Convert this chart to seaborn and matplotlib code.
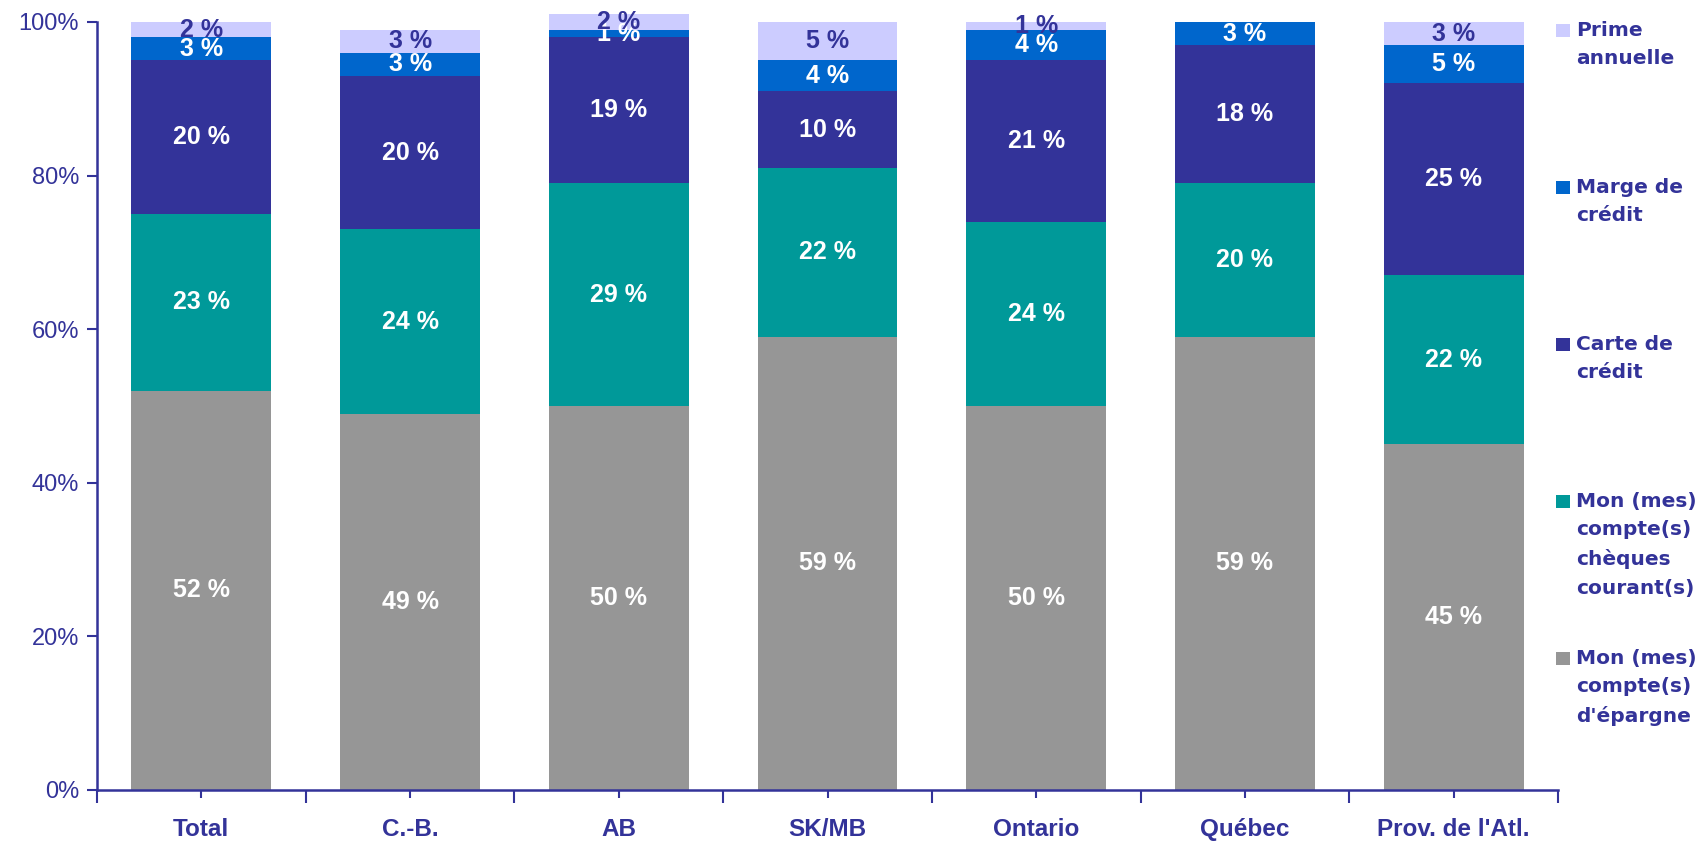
# Stacked bars: source of funds by region (percent of respondents)
import numpy as np
import matplotlib
matplotlib.use("Agg")
import matplotlib.pyplot as plt
from matplotlib.patches import Rectangle
from matplotlib.ticker import FixedLocator
import seaborn as sns

regions = ["Total", "C.-B.", "AB", "SK/MB", "Ontario", "Québec", "Prov. de l'Atl."]

# values bottom to top, in percent
epargne = [52, 49, 50, 59, 50, 59, 45]
cheques = [23, 24, 29, 22, 24, 20, 22]
carte = [20, 20, 19, 10, 21, 18, 25]
marge = [3, 3, 1, 4, 4, 3, 5]
prime = [2, 3, 2, 5, 1, 0, 3]

series_names = ["Mon (mes)\ncompte(s)\nd'épargne",
                "Mon (mes)\ncompte(s)\nchèques\ncourant(s)",
                "Carte de\ncrédit",
                "Marge de\ncrédit",
                "Prime\nannuelle"]
series_colors = ["#969696", "#009999", "#333399", "#0066CC", "#CCCCFF"]
label_colors = ["white", "white", "white", "white", "#333399"]

navy = "#333399"

sns.set_style("white")
plt.rcParams["font.family"] = ["Liberation Sans", "DejaVu Sans"]

W, H = 1704, 841
fig = plt.figure(figsize=(W / 100, H / 100), dpi=100)
ax = fig.add_axes([97 / W, 1 - 790 / H, (1558 - 97) / W, (790 - 22) / H])

series = [np.array(epargne), np.array(cheques), np.array(carte), np.array(marge), np.array(prime)]
cums = np.cumsum(series, axis=0) / 100.0

# draw cumulative totals from the top layer down so each layer covers the one above
for k in range(len(series) - 1, -1, -1):
    sns.barplot(x=regions, y=cums[k], order=regions, color=series_colors[k],
                saturation=1, width=0.67, linewidth=0, ax=ax)

# segment labels
for k, vals in enumerate(series):
    bottoms = cums[k] - vals / 100.0
    for i, v in enumerate(vals):
        if v == 0:
            continue
        ax.text(i, bottoms[i] + v / 200.0, f"{v} %", ha="center", va="center",
                color=label_colors[k], fontsize=18, fontweight="bold")

ax.set_xlim(-0.5, len(regions) - 0.5)
ax.set_ylim(0, 1.0)
yt = np.arange(0, 1.01, 0.2)
ax.set_yticks(yt)
ax.set_yticklabels([f"{int(round(t * 100))}%" for t in yt], fontsize=17, color=navy)
ax.set_xticks(range(len(regions)))
ax.set_xticklabels(regions, fontsize=17.5, fontweight="bold", color=navy)
ax.xaxis.set_minor_locator(FixedLocator(np.arange(-0.5, len(regions), 1.0)))
ax.tick_params(axis="x", which="major", direction="inout", length=12, width=1.5,
               color=navy, pad=14, bottom=True)
ax.tick_params(axis="x", which="minor", direction="out", length=9, width=1.5,
               color=navy, bottom=True)
ax.tick_params(axis="y", which="major", direction="out", length=7, width=1.5,
               color=navy, pad=6, left=True)
ax.set_xlabel("")
ax.set_ylabel("")
for side in ["top", "right"]:
    ax.spines[side].set_visible(False)
for side in ["left", "bottom"]:
    ax.spines[side].set_color(navy)
    ax.spines[side].set_linewidth(1.8)
for p in ax.patches:
    p.set_clip_on(False)

# legend, drawn by hand so entries sit at even spacing like the original
for j, k in enumerate(range(len(series) - 1, -1, -1)):
    mid = 30 + j * 157
    fig.patches.append(Rectangle((1556 / W, 1 - (mid + 7) / H), 14 / W, 13 / H,
                                 transform=fig.transFigure, facecolor=series_colors[k],
                                 edgecolor="none"))
    fig.text(1576 / W, 1 - (mid - 9) / H, series_names[k],
             ha="left", va="top", fontsize=14.5, fontweight="bold", color=navy,
             family="DejaVu Sans", linespacing=1.62)

fig.savefig("out.png", dpi=100)
